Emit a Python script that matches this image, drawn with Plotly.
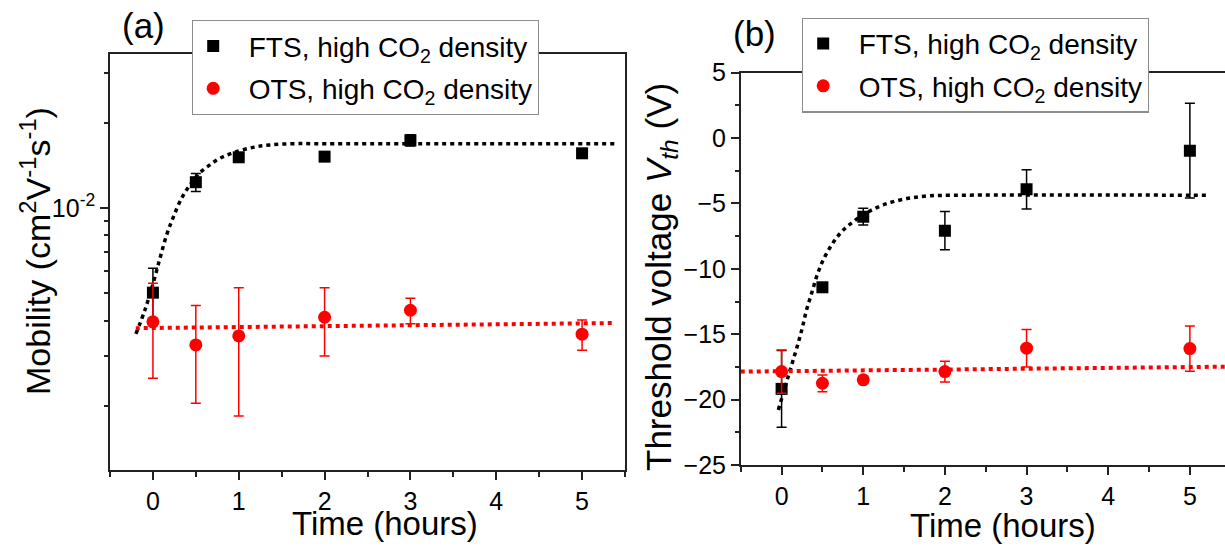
import plotly.graph_objects as go

# ---------------- data ----------------
time_pts = [0, 0.5, 1, 2, 3, 5]

# (a) mobility (cm^2 V^-1 s^-1)
fts_mob = [5.02e-3, 1.233e-2, 1.510e-2, 1.518e-2, 1.734e-2, 1.56e-2]
fts_mob_err = [1.1e-3, 0.9e-3, 0.35e-3, 0.3e-3, 0.8e-3, 0.45e-3]
ots_mob = [3.96e-3, 3.28e-3, 3.53e-3, 4.11e-3, 4.35e-3, 3.58e-3]
ots_mob_err = [1.46e-3, 1.24e-3, 1.69e-3, 1.11e-3, 0.45e-3, 0.44e-3]

fts_mob_fit_t = [-0.198, -0.093, 0.003, 0.082, 0.160, 0.237, 0.334, 0.431, 0.548,
                 0.664, 0.781, 0.936, 1.169, 1.364, 1.635, 1.946, 5.385]
fts_mob_fit = [3.59e-3, 4.36e-3, 5.42e-3, 6.64e-3, 8.03e-3, 9.27e-3, 1.082e-2, 1.205e-2,
               1.333e-2, 1.419e-2, 1.499e-2, 1.567e-2, 1.637e-2, 1.670e-2, 1.687e-2,
               1.687e-2, 1.685e-2]
ots_mob_fit_t = [-0.2, 5.36]
ots_mob_fit = [3.76e-3, 3.92e-3]

# (b) threshold voltage (V)
fts_vth = [-19.18, -11.41, -6.01, -7.08, -3.92, -0.96]
fts_vth_err = [2.93, 0.3, 0.64, 1.46, 1.5, 3.63]
ots_vth = [-17.86, -18.75, -18.49, -17.86, -16.07, -16.1]
ots_vth_err = [1.66, 0.64, 0.25, 0.8, 1.44, 1.73]

fts_vth_fit_t = [-0.04, 0.02, 0.081, 0.142, 0.203, 0.257, 0.306, 0.368, 0.429, 0.51,
                 0.613, 0.735, 0.878, 1.042, 1.245, 1.49, 1.777, 2.185, 5.23]
fts_vth_fit = [-20.79, -19.51, -18.24, -16.96, -15.69, -14.42, -13.14, -11.87, -10.60,
               -9.32, -8.17, -7.16, -6.39, -5.70, -5.11, -4.68, -4.43, -4.37, -4.37]
ots_vth_fit_t = [-0.5, 5.5]
ots_vth_fit = [-17.86, -17.48]

x_ticks = [0, 1, 2, 3, 4, 5]
mob_tickvals = [1e-2]
mob_ticktext = ["10<sup>-2</sup>"]
mob_minor = [2e-3, 3e-3, 4e-3, 5e-3, 6e-3, 7e-3, 8e-3, 9e-3, 2e-2, 3e-2]
vth_ticks = [5, 0, -5, -10, -15, -20, -25]

FONT = "Liberation Sans, Arial, sans-serif"
LEG_NAME_F = "&nbsp;&nbsp;FTS, high CO<sub>2</sub> density"
LEG_NAME_O = "&nbsp;&nbsp;OTS, high CO<sub>2</sub> density"

fig = go.Figure()

# ---- panel (a) ----
fig.add_trace(go.Scatter(x=fts_mob_fit_t, y=fts_mob_fit, mode="lines",
                         line=dict(color="black", width=3.5, dash="4px,4px", shape="spline"),
                         showlegend=False, hoverinfo="skip", xaxis="x", yaxis="y"))
fig.add_trace(go.Scatter(x=ots_mob_fit_t, y=ots_mob_fit, mode="lines",
                         line=dict(color="#ff0000", width=4, dash="4px,4px"),
                         showlegend=False, hoverinfo="skip", xaxis="x", yaxis="y"))
fig.add_trace(go.Scatter(x=time_pts, y=fts_mob, mode="markers", name=LEG_NAME_F,
                         marker=dict(symbol="square", size=12, color="black"),
                         error_y=dict(type="data", array=fts_mob_err, color="black",
                                      thickness=1.5, width=5),
                         legendgroup="f", legend="legend", xaxis="x", yaxis="y"))
fig.add_trace(go.Scatter(x=time_pts, y=ots_mob, mode="markers", name=LEG_NAME_O,
                         marker=dict(symbol="circle", size=13, color="#ff0000"),
                         error_y=dict(type="data", array=ots_mob_err, color="#ff0000",
                                      thickness=1.5, width=5),
                         legendgroup="o", legend="legend", xaxis="x", yaxis="y"))

# ---- panel (b) ----
fig.add_trace(go.Scatter(x=fts_vth_fit_t, y=fts_vth_fit, mode="lines",
                         line=dict(color="black", width=3.5, dash="4px,4px", shape="spline"),
                         showlegend=False, hoverinfo="skip", xaxis="x2", yaxis="y2"))
fig.add_trace(go.Scatter(x=ots_vth_fit_t, y=ots_vth_fit, mode="lines",
                         line=dict(color="#ff0000", width=4, dash="4px,4px"),
                         showlegend=False, hoverinfo="skip", xaxis="x2", yaxis="y2"))
fig.add_trace(go.Scatter(x=time_pts, y=fts_vth, mode="markers", name=LEG_NAME_F,
                         marker=dict(symbol="square", size=12, color="black"),
                         error_y=dict(type="data", array=fts_vth_err, color="black",
                                      thickness=1.5, width=5),
                         legendgroup="f2", legend="legend2", xaxis="x2", yaxis="y2"))
fig.add_trace(go.Scatter(x=time_pts, y=ots_vth, mode="markers", name=LEG_NAME_O,
                         marker=dict(symbol="circle", size=13, color="#ff0000"),
                         error_y=dict(type="data", array=ots_vth_err, color="#ff0000",
                                      thickness=1.5, width=5),
                         legendgroup="o2", legend="legend2", xaxis="x2", yaxis="y2"))

axis_common = dict(showline=True, linecolor="#222222", linewidth=1.6, ticks="outside",
                   tickcolor="#222222", tickwidth=1.5, showgrid=False, zeroline=False,
                   automargin=False,
                   tickfont=dict(family=FONT, size=25, color="black"))

legend_common = dict(xanchor="left", yanchor="top", bgcolor="white",
                     bordercolor="#8c8c8c", borderwidth=1.2, itemwidth=30,
                     font=dict(family=FONT, size=28, color="black"), tracegroupgap=3)

fig.update_layout(
    width=1225, height=548, autosize=False,
    margin=dict(l=0, r=0, t=0, b=0, autoexpand=False),
    paper_bgcolor="white", plot_bgcolor="white",
    font=dict(family=FONT, color="black"),
    xaxis=dict(domain=[0.0898, 0.5102], range=[-0.5, 5.5], tickmode="array",
               tickvals=x_ticks, ticklen=8, mirror=True,
               minor=dict(dtick=0.5, ticklen=5, ticks="outside", tickcolor="#222222"),
               anchor="y", **axis_common),
    yaxis=dict(domain=[0.1423, 0.9015], type="log", range=[-2.926, -1.456],
               tickmode="array", tickvals=mob_tickvals, ticktext=mob_ticktext,
               ticklen=8, mirror=True,
               minor=dict(tickvals=mob_minor, ticklen=4, ticks="outside", tickcolor="#222222"),
               anchor="x", **axis_common),
    xaxis2=dict(domain=[0.6047, 1.0], range=[-0.5, 5.43], tickmode="array",
                tickvals=x_ticks, ticklen=8, mirror=True,
                minor=dict(dtick=0.5, ticklen=5, ticks="outside", tickcolor="#222222"),
                anchor="y2", **axis_common),
    yaxis2=dict(domain=[0.1515, 0.8673], range=[-25, 5], tickmode="array",
                tickvals=vth_ticks, ticklen=8, mirror=False,
                minor=dict(dtick=2.5, ticklen=4, ticks="outside", tickcolor="#222222"),
                anchor="x2", **axis_common),
    legend=dict(x=192 / 1225, y=(548 - 20) / 548, **legend_common),
    legend2=dict(x=802 / 1225, y=(548 - 17.5) / 548, **legend_common),
    showlegend=True,
)

annots = [
    dict(text="(a)", x=143 / 1225, y=(548 - 25) / 548, size=35),
    dict(text="(b)", x=754 / 1225, y=(548 - 33) / 548, size=35),
    dict(text="Time (hours)", x=385 / 1225, y=(548 - 523) / 548, size=33),
    dict(text="Time (hours)", x=1003 / 1225, y=(548 - 525) / 548, size=33),
    dict(text="Mobility (cm<sup>2</sup>V<sup>-1</sup>s<sup>-1</sup>)", x=35 / 1225,
         y=(548 - 251) / 548, textangle=-90, size=34),
    dict(text="Threshold voltage <i>V</i><sub><i>th</i></sub> (V)", x=661 / 1225,
         y=(548 - 277) / 548, textangle=-90, size=35),
]
for a in annots:
    fig.add_annotation(xref="paper", yref="paper", showarrow=False,
                       xanchor="center", yanchor="middle",
                       font=dict(family=FONT, color="black", size=a["size"]),
                       text=a["text"], x=a["x"], y=a["y"],
                       textangle=a.get("textangle", 0))

fig.write_html("out.html")
